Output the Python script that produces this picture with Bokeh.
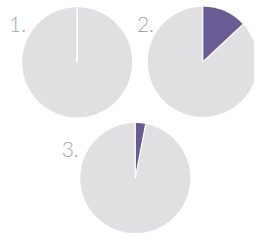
import math
from bokeh.plotting import figure
from bokeh.models import Range1d, ColumnDataSource
from bokeh.core.properties import value
from bokeh.embed import file_html
from bokeh.resources import INLINE

# data
labels = ["1.", "2.", "3."]
highlight_pct = [0, 13, 3]

PURPLE = "#6b5b95"
GRAY = "#e0e0e2"

W, H = 254, 235
RW, RH = 270, 251  # reference frame units
p = figure(width=W, height=H, output_backend="svg", toolbar_location=None,
           x_range=Range1d(0, RW), y_range=Range1d(0, RH), min_border=0)
p.axis.visible = False
p.grid.visible = False
p.outline_line_color = None
p.background_fill_color = None
p.border_fill_color = None

# layout (reference px, y measured downward)
centers = [(81.5, 66), (215, 65.5), (143.3, 189.7)]
label_pos = [(9, 26), (145, 26), (65, 159)]
R = 58.5

cx = [c[0] for c in centers]
cy = [RH - c[1] for c in centers]
starts = [math.pi / 2 for _ in highlight_pct]
ends = [math.pi / 2 - 2 * math.pi * v / 100.0 for v in highlight_pct]

p.circle(x=cx, y=cy, radius=R, fill_color=GRAY, line_color=None)

nz = [i for i, v in enumerate(highlight_pct) if v > 0]
src = ColumnDataSource(dict(x=[cx[i] for i in nz], y=[cy[i] for i in nz],
                            s=[starts[i] for i in nz], e=[ends[i] for i in nz]))
p.wedge(x="x", y="y", radius=R, start_angle="s", end_angle="e",
        direction="clock", fill_color=PURPLE, line_color=None, source=src)

# white separators
sx0, sy0, sx1, sy1 = [], [], [], []
for x, y, s, e in zip(cx, cy, starts, ends):
    for a in (s, e):
        sx0.append(x); sy0.append(y)
        sx1.append(x + R * math.cos(a)); sy1.append(y + R * math.sin(a))
p.segment(x0=sx0, y0=sy0, x1=sx1, y1=sy1, line_color="white", line_width=1.2)

p.text(x=[l[0] for l in label_pos], y=[RH - l[1] for l in label_pos], text=labels,
       text_font=value("Lato Light"), text_font_size="21px", text_color="#a8a8a8",
       text_baseline="alphabetic", text_align="left")

open("out.html", "w").write(file_html(p, INLINE))
